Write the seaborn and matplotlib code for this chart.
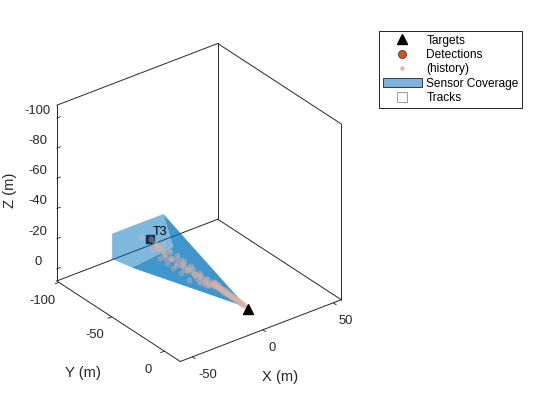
# sensor coverage scene, 3d view
import matplotlib
matplotlib.use("Agg")
from matplotlib import pylab as plt
from matplotlib.lines import Line2D
from matplotlib.patches import Patch
from mpl_toolkits.mplot3d.art3d import Poly3DCollection
import seaborn as sns

x_ticks = [-50, 0, 50]
y_ticks = [-100, -50, 0]
z_ticks = [-100, -80, -60, -40, -20, 0]
x_lim = [-58.6, 55.7]
y_lim = [15, -102]
z_lim = [8, -108.5]

sensor = [0.5, 0, 1.5]
target = [-16.3, -70, -19.6]
far_face = [[-28.3, -90, -18], [8.1, -90, -18], [7.3, -79.4, -1.3], [-25.4, -74.9, -1.3], [-28.3, -90, -1.3]]
cone = [[0, 0, 0], [8.1, -90, -18], [7.3, -79.4, -1.3], [-25.4, -74.9, -1.3]]

hist_y = [-73, -70, -68, -66, -65, -63, -62, -60, -58, -57, -55, -54, -52, -50, -49, -47, -46, -44, -43, -41,
          -40, -38, -37, -35, -34, -33, -31, -30, -29, -27, -26, -25, -24, -23, -22, -21, -20, -19, -18, -17,
          -16, -15, -14, -13, -12, -11, -10, -9, -8, -7, -6, -5, -4, -3, -2,
          -24.5, -23.5, -22.5, -21.5, -20.5, -19.5, -18.5, -17.5, -16.5, -15.5, -14.5, -13.5, -12.5, -11.5,
          -10.5, -9.5, -8.5, -7.5, -6.5, -5.5, -4.5, -3.5, -2.5,
          -67, -64, -61, -59, -56, -53, -51, -48, -45, -42, -39, -36, -32, -28,
          -65, -60, -55, -50, -47, -44, -41, -38, -35, -33, -30, -27]
hist_x = [-20.5, -16, -14, -15, -13, -16, -13, -14, -15, -12, -12, -14, -11, -13, -10, -11, -12, -9, -10, -11,
          -8, -9, -10, -7, -8, -9, -6, -7, -8, -6, -7, -5, -6, -5, -6, -4.5, -5, -4, -5, -3.5,
          -4, -3, -3.5, -3, -2.5, -3, -2, -2, -2, -1.5, -1.5, -1, -1, -0.7, -0.5,
          -5.5, -5, -5.5, -4.5, -5, -4.5, -4, -4, -3.5, -3.5, -3.5, -3, -2.5, -2.5,
          -2.5, -2, -2, -1.5, -1.5, -1, -1, -0.8, -0.5,
          -17, -12, -16, -11, -15, -10, -14, -9, -13, -8, -12, -7, -9, -8,
          -15, -13, -13, -12, -10, -11, -9, -8, -9, -7, -6, -7]
hist_z = [-21, -19, -17, -16.5, -15, -16, -14, -13, -12, -15, -11, -13, -13, -10, -13, -10, -11.5, -10, -9, -10,
          -10, -8, -8, -8, -8, -6, -7, -6, -6, -7, -6, -7, -6, -7, -6, -6, -6, -5, -5, -5,
          -4, -4.5, -4, -4, -3.5, -3, -3, -3, -2, -2, -2, -1.5, -1, -1, -0.5,
          -7, -7, -6, -6.5, -5.5, -5.5, -5.5, -4.5, -5, -4, -4, -4, -3, -3.5,
          -3, -2.5, -2.5, -2, -2, -1.5, -1, -1, -0.5,
          -14, -17, -11, -15, -9, -14, -8, -12, -7, -11, -5, -9, -5, -5,
          -15, -13, -12, -11, -11, -9, -9, -8, -7, -7, -7, -5]

legend_labels = ["Targets", "Detections", "(history)", "Sensor Coverage", "Tracks"]

blue = "#0072BD"
orange = "#D95319"
dark = "#262626"
pale = "#E1B4A5"

sns.set_theme(style="white")
plt.rcParams["font.family"] = ["Liberation Sans", "DejaVu Sans"]
plt.rcParams["axes.unicode_minus"] = False

fig = plt.figure(figsize=(5.6, 4.2), dpi=100)
ax = fig.add_axes([-6.4 / 560, 12.1 / 420, 400 / 560, 400 / 420], projection="3d", proj_type="ortho")
ax.view_init(elev=30, azim=-127.5)
ax.set_box_aspect((1, 1, 1), zoom=0.853)
ax.computed_zorder = False
ax.set_xlim(x_lim)
ax.set_ylim(y_lim)
ax.set_zlim(z_lim)
ax.set_xticks(x_ticks)
ax.set_yticks(y_ticks)
ax.set_zticks(z_ticks)
ax.grid(False)

for axis, inward, outward, pad in [(ax.xaxis, 0.3, 0, -1), (ax.yaxis, 0.3, 0, 7.5), (ax.zaxis, 0, 0.3, 2)]:
    axis.set_pane_color((1, 1, 1, 1))
    axis.pane.set_edgecolor((1, 1, 1, 1))
    axis.line.set_linewidth(0)
    axis._axinfo["tick"].update(inward_factor=inward, outward_factor=outward, linewidth={True: 0.6, False: 0.6}, color=dark)
    axis.set_tick_params(labelsize=9.4, labelcolor=dark, pad=pad)
    axis.set_rotate_label(False)
    axis.get_offset_text().set_visible(False)

for lab in ax.get_xticklabels():
    lab.set_ha("left")
for lab in ax.get_yticklabels():
    lab.set_va("bottom")
for lab in ax.get_zticklabels():
    lab.set_va("bottom")

ax.xaxis._axinfo["label"]["va"] = "top"
ax.set_xlabel("X (m)", fontsize=10.6, color=dark, labelpad=2, rotation=0)
ax.set_ylabel("Y (m)", fontsize=10.6, color=dark, labelpad=12, rotation=0)
ax.set_zlabel("Z (m)", fontsize=10.6, color=dark, labelpad=3.5, rotation=90)

# box edges, from the axis limits
x0, x1 = x_lim
y0, y1 = y_lim
z0, z1 = z_lim
for a, b in [((x0, y0), (x1, y0)), ((x1, y0), (x1, y1)), ((x1, y1), (x0, y1)), ((x0, y1), (x0, y0))]:
    ax.plot([a[0], b[0]], [a[1], b[1]], [z0, z0], color=dark, lw=0.7, zorder=1)
for a, b in [((x1, y0), (x1, y1)), ((x1, y1), (x0, y1))]:
    ax.plot([a[0], b[0]], [a[1], b[1]], [z1, z1], color=dark, lw=0.7, zorder=1)
for a in [(x1, y0), (x1, y1), (x0, y1)]:
    ax.plot([a[0], a[0]], [a[1], a[1]], [z0, z1], color=dark, lw=0.7, zorder=1)

ax.add_collection3d(Poly3DCollection([far_face], facecolor=blue, edgecolor="none", alpha=0.5, zorder=2))
ax.add_collection3d(Poly3DCollection([cone], facecolor=blue, edgecolor="none", alpha=0.75, zorder=2))

ax.plot([target[0]], [target[1]], [target[2]], marker="s", ms=5.5, color="#10304E", ls="none", zorder=2.5)
ax.scatter(hist_x, hist_y, hist_z, s=19, c=pale, alpha=0.38, linewidths=0, depthshade=False, zorder=3)
ax.plot([sensor[0]], [sensor[1]], [sensor[2]], marker="^", ms=7, color="black", ls="none", zorder=5)
ax.text(target[0] + 2, target[1], target[2] - 3.5, "T3", fontsize=8.9, color="black", zorder=6, ha="left", va="center")

handles = [
    Line2D([], [], marker="^", ms=7, color="black", ls="none"),
    Line2D([], [], marker="o", ms=5.8, mfc=orange, mec=dark, mew=0.5, ls="none"),
    Line2D([], [], marker="o", ms=3.2, mfc=pale, mec="none", ls="none"),
    Patch(facecolor="#7FB1DE", edgecolor="black", linewidth=0.5),
    Line2D([], [], marker="s", ms=7, mfc="white", mec="#8C8C8C", mew=0.6, ls="none"),
]
fig.legend(handles, legend_labels, loc="upper left", bbox_to_anchor=(379 / 560, 1 - 31 / 420), borderaxespad=0,
           fontsize=8.55, frameon=True, fancybox=False, framealpha=1, edgecolor="black", borderpad=0.3,
           labelspacing=0.2, handlelength=3.35, handletextpad=0.33, labelcolor="black").get_frame().set_linewidth(0.6)

fig.savefig("out.png", dpi=100)
